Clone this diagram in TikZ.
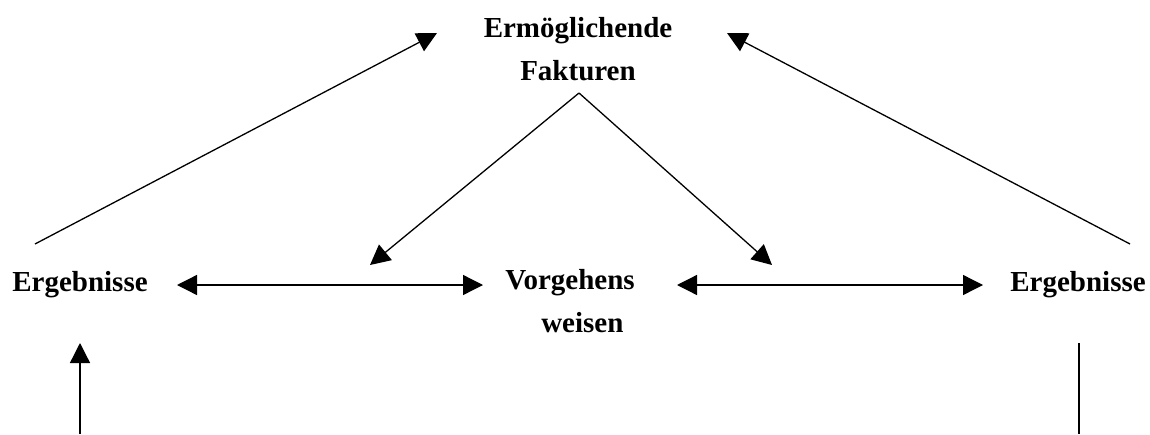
\documentclass[tikz,border=0pt]{standalone}
\usepackage{fontspec}
\setmainfont{Liberation Serif}
\usetikzlibrary{arrows.meta}
\begin{document}
\begin{tikzpicture}[x=1pt,y=-1pt,
  label/.style={font=\fontsize{29}{43}\selectfont\bfseries, anchor=base, inner sep=0pt, align=center},
  conn/.style={line width=1.3pt},
  arr/.style={conn, -{Triangle[length=20pt,width=20pt]}},
  darr/.style={conn, {Triangle[length=20pt,width=20pt]}-{Triangle[length=20pt,width=20pt]}}]
  \useasboundingbox (0,0) rectangle (1150,434);

  % labels (base anchor sits on the last line's baseline)
  \node[label] (top) at (578,80) {Ermöglichende\\Fakturen};
  \node[label] (ergL) at (80,291) {Ergebnisse};
  \node[label] (ergR) at (1078,291) {Ergebnisse};
  \node[label, align=left] (mid) at (570,332) {Vorgehens\\\hspace*{36pt}weisen};

  % connector end points
  \coordinate (ergLtop) at (35,244);
  \coordinate (ergRtop) at (1130,244);
  \coordinate (topL) at (437,33);
  \coordinate (topR) at (727,33);
  \coordinate (apex) at (579,93);
  \coordinate (tipL) at (370,265);
  \coordinate (tipR) at (772,265);
  \coordinate (hL1) at (177,285);
  \coordinate (hL2) at (483,285);
  \coordinate (hR1) at (677,285);
  \coordinate (hR2) at (983,285);
  \coordinate (upTip) at (80,343);
  \coordinate (upFoot) at (80,434);
  \coordinate (vTop) at (1079,343);
  \coordinate (vFoot) at (1079,434);

  % connectors
  \draw[arr] (ergLtop) -- (topL);
  \draw[arr] (ergRtop) -- (topR);
  \draw[arr] (apex) -- (tipL);
  \draw[arr] (apex) -- (tipR);
  \draw[darr] (hL1) -- (hL2);
  \draw[darr] (hR1) -- (hR2);
  \draw[arr] (upFoot) -- (upTip);
  \draw[conn] (vTop) -- (vFoot);
\end{tikzpicture}
\end{document}
